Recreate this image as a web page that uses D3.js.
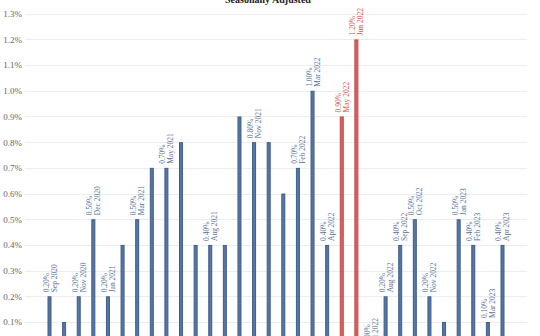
<!DOCTYPE html>
<html><head><meta charset="utf-8">
<script src="https://cdn.jsdelivr.net/npm/d3@7"></script>
<style>html,body{margin:0;padding:0;background:#fff;overflow:hidden}</style>
</head><body><div id="chart"></div>
<script>
const months = ["Sep 2020","Oct 2020","Nov 2020","Dec 2020","Jan 2021","Feb 2021","Mar 2021","Apr 2021","May 2021","Jun 2021","Jul 2021","Aug 2021","Sep 2021","Oct 2021","Nov 2021","Dec 2021","Jan 2022","Feb 2022","Mar 2022","Apr 2022","May 2022","Jun 2022","Jul 2022","Aug 2022","Sep 2022","Oct 2022","Nov 2022","Dec 2022","Jan 2023","Feb 2023","Mar 2023","Apr 2023"];
const values = [0.2,0.1,0.2,0.5,0.2,0.4,0.5,0.7,0.7,0.8,0.4,0.4,0.4,0.9,0.8,0.8,0.6,0.7,1.0,0.4,0.9,1.2,0.0,0.2,0.4,0.5,0.2,0.1,0.5,0.4,0.1,0.4];
const highlighted = ["May 2022","Jun 2022"];
const labeled = ["Sep 2020","Nov 2020","Dec 2020","Jan 2021","Mar 2021","May 2021","Aug 2021","Nov 2021","Feb 2022","Mar 2022","Apr 2022","May 2022","Jun 2022","Jul 2022","Aug 2022","Sep 2022","Oct 2022","Nov 2022","Jan 2023","Feb 2023","Mar 2023","Apr 2023"];
const yTicks = [0.1,0.2,0.3,0.4,0.5,0.6,0.7,0.8,0.9,1.0,1.1,1.2,1.3];
const title = "Seasonally Adjusted";

const W = 540, H = 336;
const svg = d3.select("#chart").append("svg").attr("width", W).attr("height", H)
  .style("font-family", "'Liberation Serif','DejaVu Serif',serif");

const x = d3.scaleBand().domain(months).range([25, 527]).paddingInner(0.726).paddingOuter(1.54);
const y = d3.scaleLinear().domain([0, 1.3]).range([347.7, 13.7]);

// gridlines
svg.append("g").selectAll("line").data(yTicks).join("line")
  .attr("x1", 25).attr("x2", 527)
  .attr("y1", d => Math.round(y(d)) + 0.5).attr("y2", d => Math.round(y(d)) + 0.5)
  .attr("stroke", "#ececec").attr("stroke-width", 1);

// y axis labels
const yAxis = d3.axisLeft(y).tickValues(yTicks).tickSize(0).tickPadding(0)
  .tickFormat(d => d3.format(".1f")(d) + "%");
const ga = svg.append("g").attr("transform", "translate(22,0)").call(yAxis);
ga.select(".domain").remove();
ga.selectAll("text").attr("font-size", 9).attr("fill", "#666")
  .style("font-family", "'Liberation Serif','DejaVu Serif',serif");

// bars
const data = months.map((m, i) => ({m, v: values[i], hi: highlighted.includes(m), lab: labeled.includes(m)}));
svg.append("g").selectAll("rect").data(data).join("rect")
  .attr("x", d => x(d.m) + 0.5)
  .attr("y", d => y(d.v) + 0.5)
  .attr("width", x.bandwidth() - 1)
  .attr("height", d => Math.max(0, y(0) - y(d.v)))
  .attr("fill", d => d.hi ? "#d9605c" : "#56769f")
  .attr("stroke", d => d.hi ? "#c44a47" : "#3f5f8e")
  .attr("stroke-width", 1);

// labels
const lg = svg.append("g").selectAll("g").data(data.filter(d => d.lab)).join("g")
  .attr("transform", d => `translate(${x(d.m) + x.bandwidth()/2},${y(d.v) - 4}) rotate(-90)`);
const lt = lg.append("text").attr("font-size", 7.5)
  .attr("fill", d => d.hi ? "#d0504c" : "#56709a");
lt.append("tspan").attr("x", 0).attr("y", -1).text(d => d3.format(".2f")(d.v) + "%");
lt.append("tspan").attr("x", 0).attr("y", 7).text(d => d.m);

// title
svg.append("text").attr("x", 268).attr("y", 3).attr("text-anchor", "middle")
  .attr("font-size", 10).attr("font-weight", "bold").attr("fill", "#222").text(title);
</script></body></html>
